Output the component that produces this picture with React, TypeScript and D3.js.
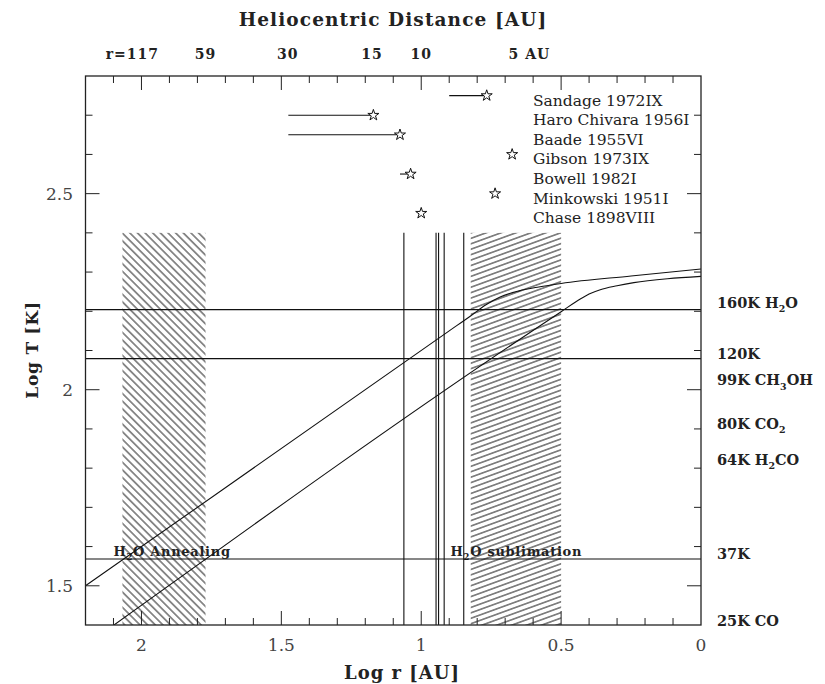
import React from 'react';
import * as d3 from 'd3';

const W = 825;
const H = 684;

// axis ticks / labels
const xMajorTicks = [2, 1.5, 1, 0.5, 0];
const yMajorTicks = [2.5, 2, 1.5];
const topLabels = ['r=117', '59', '30', '15', '10', '5 AU'];
const topLabelR = [117, 59, 30, 15, 10, 5];

// temperature curves (log r, log T)
const upperLogR = [2.2, 0.9, 0.82, 0.77, 0.72, 0.65, 0.58, 0.5, 0.25, 0];
const upperLogT = [1.5, 2.15, 2.19, 2.216, 2.236, 2.252, 2.262, 2.271, 2.29, 2.308];
const lowerLogR = [2.098, 0.5, 0.43, 0.4, 0.36, 0.3, 0.24, 0.12, 0];
const lowerLogT = [1.4, 2.199, 2.232, 2.244, 2.255, 2.265, 2.273, 2.283, 2.289];

// ice sublimation temperatures
const lineTemps = [160, 120, 37];
const tempLabels = ['160K H_2O', '120K', '99K CH_3OH', '80K CO_2', '64K H_2CO', '37K', '25K CO'];
const tempValues = [160, 120, 99, 80, 64, 37, 25];

// vertical lines (log r)
const vlineLogR = [1.062, 0.947, 0.938, 0.918, 0.848];
const vlineTopLogT = 2.4;

// hatched zones (log r from, to)
const hatchFrom = [2.068, 0.823];
const hatchTo = [1.771, 0.5];
const hatchTopLogT = 2.4;

// comets
const cometNames = ['Sandage 1972IX', 'Haro Chivara 1956I', 'Baade 1955VI', 'Gibson 1973IX', 'Bowell 1982I', 'Minkowski 1951I', 'Chase 1898VIII'];
const cometLogR = [0.766, 1.171, 1.076, 0.675, 1.038, 0.736, 1.0];
const cometLogT = [2.75, 2.7, 2.65, 2.6, 2.55, 2.5, 2.45];
const cometBarFrom: (number | null)[] = [0.9, 1.475, 1.475, null, 1.076, null, null];

// zone annotations
const annText = ['H_2O Annealing', 'H_2O sublimation'];
const annLogR = [2.1, 0.895];

const FONT = '"DejaVu Serif", serif';

function withSubs(text: string, fs: number) {
  const parts: React.ReactNode[] = [];
  const re = /_(\w)/g;
  let last = 0;
  let m: RegExpExecArray | null;
  let k = 0;
  let shifted = false;
  while ((m = re.exec(text)) !== null) {
    if (m.index > last) {
      parts.push(<tspan key={k++} dy={shifted ? -fs * 0.3 : 0}>{text.slice(last, m.index)}</tspan>);
      shifted = false;
    }
    parts.push(<tspan key={k++} dy={fs * 0.3} fontSize={fs * 0.65}>{m[1]}</tspan>);
    shifted = true;
    last = m.index + m[0].length;
  }
  if (last < text.length) {
    parts.push(<tspan key={k++} dy={shifted ? -fs * 0.3 : 0}>{text.slice(last)}</tspan>);
  }
  return parts;
}

export default function App() {
  const x = d3.scaleLinear().domain([2.2, 0]).range([85.5, 701]);
  const y = d3.scaleLinear().domain([1.4, 2.8]).range([625, 76]);
  const [x0, x1] = x.range();
  const [y0, y1] = y.range();

  const minorX = d3.range(1, 22).map((i) => i / 10);
  const minorY = d3.range(15, 28).map((i) => i / 10);
  const isMajor = (v: number) => Math.abs(v * 2 - Math.round(v * 2)) < 1e-6;

  const line = d3
    .line<[number, number]>()
    .x((d) => x(d[0]))
    .y((d) => y(d[1]))
    .curve(d3.curveMonotoneX);

  const upper = line(upperLogR.map((r, i) => [r, upperLogT[i]]));
  const lower = line(lowerLogR.map((r, i) => [r, lowerLogT[i]]));
  const star = d3.symbol().type(d3.symbolStar).size(38)();

  const labelNudge = [-2, 0, -6, 1, -1, 0, 0];

  return (
    <svg width={W} height={H} style={{ position: 'absolute', left: 0, top: 0, background: '#fff' }} fontFamily={FONT}>
      <defs>
        <pattern id="hatchL" patternUnits="userSpaceOnUse" width={5.4} height={5.4} patternTransform="rotate(45)">
          <line x1={0} y1={2.7} x2={5.4} y2={2.7} stroke="#222" strokeWidth={1} />
        </pattern>
        <pattern id="hatchR" patternUnits="userSpaceOnUse" width={5.1} height={5.1} patternTransform="rotate(-20)">
          <line x1={0} y1={2.55} x2={5.1} y2={2.55} stroke="#222" strokeWidth={1} />
        </pattern>
        <clipPath id="plotClip">
          <rect x={x0} y={y1} width={x1 - x0} height={y0 - y1} />
        </clipPath>
      </defs>
      <rect x={0} y={0} width={W} height={H} fill="#fff" />

      {/* zone annotations */}
      {annText.map((t, i) => (
        <text key={t} x={x(annLogR[i])} y={y(Math.log10(37)) - 3} fontSize={13} fontWeight="bold" fill="#222" letterSpacing={0.7}>
          {withSubs(t, 13)}
        </text>
      ))}

      {/* hatched zones */}
      {hatchFrom.map((r, i) => (
        <rect
          key={i}
          x={x(r)}
          y={y(hatchTopLogT)}
          width={x(hatchTo[i]) - x(r)}
          height={y(1.4) - y(hatchTopLogT)}
          fill={i === 0 ? 'url(#hatchL)' : 'url(#hatchR)'}
        />
      ))}

      <g clipPath="url(#plotClip)" fill="none" stroke="#111" strokeWidth={1.1}>
        {lineTemps.map((t) => (
          <line key={t} x1={x0} x2={x1} y1={y(Math.log10(t))} y2={y(Math.log10(t))} />
        ))}
        {vlineLogR.map((r) => (
          <line key={r} x1={x(r)} x2={x(r)} y1={y(vlineTopLogT)} y2={y0} />
        ))}
        <path d={upper || ''} />
        <path d={lower || ''} />
      </g>

      {/* comets */}
      {cometNames.map((n, i) => (
        <g key={n}>
          {cometBarFrom[i] !== null && (
            <line
              x1={x(cometBarFrom[i] as number)}
              x2={x(cometLogR[i])}
              y1={y(cometLogT[i])}
              y2={y(cometLogT[i])}
              stroke="#111"
              strokeWidth={1.1}
            />
          )}
          <path d={star || ''} transform={`translate(${x(cometLogR[i])},${y(cometLogT[i])})`} fill="#fff" stroke="#111" strokeWidth={1} />
          <text x={533} y={y(cometLogT[i]) + 10} fontSize={15.5} fill="#222">
            {n}
          </text>
        </g>
      ))}

      {/* ticks */}
      <g stroke="#222" strokeWidth={1}>
        {minorX.map((v) => {
          const len = isMajor(v) ? 14 : 7;
          return (
            <g key={'x' + v}>
              <line x1={x(v)} x2={x(v)} y1={y0} y2={y0 - len} />
              <line x1={x(v)} x2={x(v)} y1={y1} y2={y1 + len} />
            </g>
          );
        })}
        {minorY.map((v) => {
          const len = isMajor(v) ? 14 : 7;
          return (
            <g key={'y' + v}>
              <line x1={x0} x2={x0 + len} y1={y(v)} y2={y(v)} />
              <line x1={x1} x2={x1 - len} y1={y(v)} y2={y(v)} />
            </g>
          );
        })}
      </g>

      {/* frame */}
      <rect x={x0} y={y1} width={x1 - x0} height={y0 - y1} fill="none" stroke="#222" strokeWidth={1.3} />

      {/* tick labels */}
      {xMajorTicks.map((v) => (
        <text key={'xl' + v} x={x(v)} y={y0 + 26} textAnchor="middle" fontSize={17} fill="#444">
          {String(v)}
        </text>
      ))}
      {yMajorTicks.map((v) => (
        <text key={'yl' + v} x={73} y={y(v) + 6} textAnchor="end" fontSize={17} fill="#444">
          {String(v)}
        </text>
      ))}

      {/* top labels */}
      {topLabels.map((t, i) => {
        const dx = i === 0 ? 10 : i === topLabels.length - 1 ? 24 : 0;
        return (
          <text key={t} x={x(Math.log10(topLabelR[i])) + dx} y={59} textAnchor="middle" fontSize={14} fontWeight="bold" fill="#222" letterSpacing={1}>
            {t}
          </text>
        );
      })}

      {/* right labels */}
      {tempLabels.map((t, i) => (
        <text key={t} x={717} y={y(Math.log10(tempValues[i])) + labelNudge[i]} fontSize={14.5} fontWeight="bold" fill="#222">
          {withSubs(t, 14.5)}
        </text>
      ))}

      {/* titles */}
      <text x={393} y={26} textAnchor="middle" fontSize={18.5} fontWeight="bold" fill="#222" letterSpacing={1.1}>
        Heliocentric Distance [AU]
      </text>
      <text x={402} y={679} textAnchor="middle" fontSize={18} fontWeight="bold" fill="#222" letterSpacing={1}>
        Log r [AU]
      </text>
      <text
        transform={`translate(32,350) rotate(-90)`}
        textAnchor="middle"
        dominantBaseline="central"
        fontSize={17}
        fontWeight="bold"
        fill="#222"
        letterSpacing={0.8}
      >
        Log T [K]
      </text>
    </svg>
  );
}
